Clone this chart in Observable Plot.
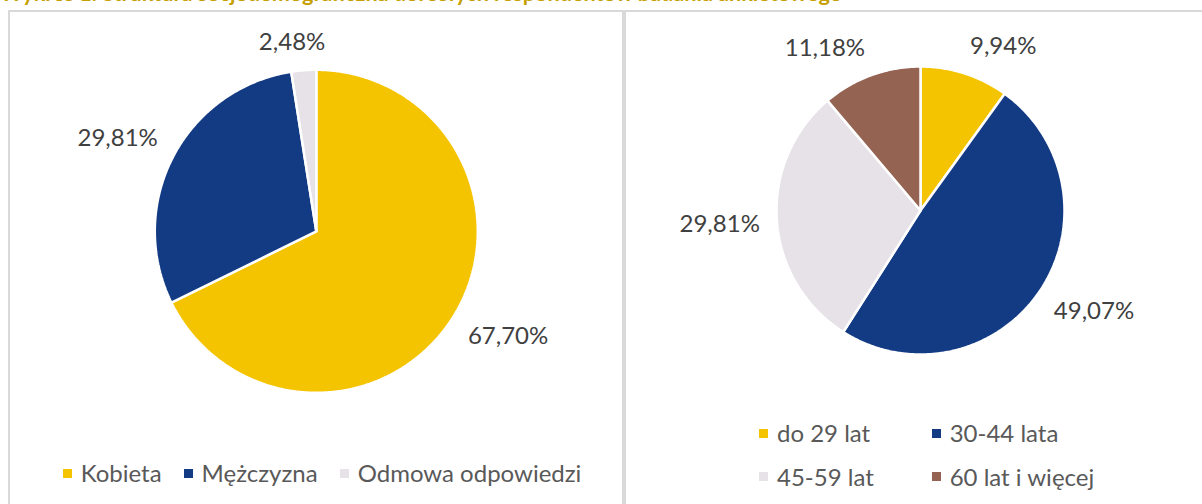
<!DOCTYPE html>
<html>
<head>
<meta charset="utf-8">
<script src="https://cdn.jsdelivr.net/npm/d3@7"></script>
<script src="https://cdn.jsdelivr.net/npm/@observablehq/plot@0.6"></script>
<style>
html, body { margin: 0; padding: 0; background: #fff; }
body { width: 1202px; height: 504px; overflow: hidden; position: relative; font-family: Lato, "Open Sans", sans-serif; }
#title { position: absolute; left: 0; top: -16.7px; font-weight: 700; font-size: 21.6px; line-height: 21.6px; color: #C6A000; white-space: nowrap; }
.panel { position: absolute; top: 10px; height: 530px; border: 2px solid #d9d9d9; box-sizing: border-box; }
#p1 { left: 8px; width: 616px; }
#p2 { left: 624px; width: 600px; }
.chart { position: absolute; left: 0; top: 0; }
.legend { position: absolute; font-size: 24px; line-height: 28px; color: #595959; white-space: nowrap; }
.legend .item { display: flex; align-items: center; height: 28px; }
.legend .sw { width: 9px; height: 9px; margin-right: 9px; flex: none; }
#leg1 { display: flex; gap: 22px; left: 52.7px; top: 447.3px; }
#leg2 { display: grid; grid-template-columns: 172.7px 172.7px; row-gap: 15.4px; left: 133px; top: 407.3px; }
</style>
</head>
<body>
<div id="title">Wykres 1. Struktura socjodemograficzna dorosłych respondentów badania ankietowego</div>
<div class="panel" id="p1"><div class="chart" id="c1"></div><div class="legend" id="leg1"></div></div>
<div class="panel" id="p2"><div class="chart" id="c2"></div><div class="legend" id="leg2"></div></div>
<script>
// ---- data ----
const genderCategories = ["Kobieta", "Mężczyzna", "Odmowa odpowiedzi"];
const genderValues = [67.70, 29.81, 2.48];
const genderColors = ["#F5C400", "#133B84", "#E6E2E8"];

const ageCategories = ["do 29 lat", "30-44 lata", "45-59 lat", "60 lat i więcej"];
const ageValues = [9.94, 49.07, 29.81, 11.18];
const ageColors = ["#F5C400", "#133B84", "#E6E2E8", "#956352"];

// ---- helpers ----
const LABEL_SIZE = 24;
const GAP = 17;
const fmt = v => d3.format(".2f")(v).replace(".", ",") + "%";
const mctx = document.createElement("canvas").getContext("2d");
mctx.font = `${LABEL_SIZE}px Lato`;
const clamp = v => Math.max(-1, Math.min(1, v));

function makePie(el, categories, values, colors, r, cx, cy, width, height) {
  const total = d3.sum(values);
  const slices = [];
  const labels = [];
  let acc = 0;
  categories.forEach((cat, i) => {
    const a0 = acc / total * 2 * Math.PI;
    acc += values[i];
    const a1 = acc / total * 2 * Math.PI;
    const n = Math.max(2, Math.ceil((a1 - a0) / (Math.PI / 360)));
    slices.push({cat, x: 0, y: 0});
    for (let k = 0; k <= n; k++) {
      const t = a0 + (a1 - a0) * k / n;
      slices.push({cat, x: r * Math.sin(t), y: -r * Math.cos(t)});
    }
    slices.push({cat, x: 0, y: 0});
    const m = (a0 + a1) / 2;
    const s = Math.sin(m), c = -Math.cos(m);
    const text = fmt(values[i]);
    const w = mctx.measureText(text).width, h = 22;
    labels.push({
      text,
      x: (r + GAP) * s + clamp(s * 4) * w / 2,
      y: (r + GAP) * c + clamp(c * 4) * h / 2
    });
  });
  const chart = Plot.plot({
    width, height,
    margin: 0,
    x: {domain: [-cx, width - cx], range: [0, width], axis: null},
    y: {domain: [-cy, height - cy], range: [0, height], axis: null},
    color: {domain: categories, range: colors},
    style: {background: "transparent", overflow: "visible"},
    marks: [
      Plot.line(slices, {x: "x", y: "y", z: "cat", fill: "cat", stroke: "#ffffff", strokeWidth: 2.5, strokeLinejoin: "miter", curve: "linear"}),
      Plot.text(labels, {x: "x", y: "y", text: "text", fontSize: LABEL_SIZE, fill: "#404040", fontFamily: "Lato", textAnchor: "middle"})
    ]
  });
  el.appendChild(chart);
}

function makeLegend(el, categories, colors) {
  categories.forEach((cat, i) => {
    const item = document.createElement("div");
    item.className = "item";
    const sw = document.createElement("span");
    sw.className = "sw";
    sw.style.background = colors[i];
    const t = document.createElement("span");
    t.textContent = cat;
    item.appendChild(sw); item.appendChild(t);
    el.appendChild(item);
  });
}

// left panel: inner origin at page (10,12); pie center page (315.8,230.8)
makePie(document.getElementById("c1"), genderCategories, genderValues, genderColors, 161.5, 305.8, 218.8, 612, 492);
// right panel: inner origin at page (626,12); pie center page (920,210)
makePie(document.getElementById("c2"), ageCategories, ageValues, ageColors, 144, 294, 198, 576, 492);

makeLegend(document.getElementById("leg1"), genderCategories, genderColors);
makeLegend(document.getElementById("leg2"), ageCategories, ageColors);
</script>
</body>
</html>
